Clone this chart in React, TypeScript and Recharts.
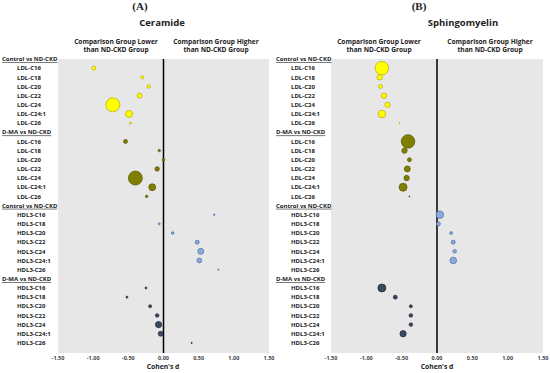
import { ScatterChart, Scatter, XAxis, YAxis, ZAxis, CartesianGrid, ReferenceLine } from 'recharts';

// row labels
const groupHeaders = ['Control vs ND-CKD', 'D-MA vs ND-CKD', 'Control vs ND-CKD', 'D-MA vs ND-CKD'];
const ldlLabels = ['LDL-C16', 'LDL-C18', 'LDL-C20', 'LDL-C22', 'LDL-C24', 'LDL-C24:1', 'LDL-C26'];
const hdlLabels = ['HDL3-C16', 'HDL3-C18', 'HDL3-C20', 'HDL3-C22', 'HDL3-C24', 'HDL3-C24:1', 'HDL3-C26'];
const xTicks = [-1.5, -1, -0.5, 0, 0.5, 1, 1.5];

// Ceramide: Cohen's d and bubble size
const cerControlLdlD = [-0.99, -0.3, -0.21, -0.34, -0.72, -0.49, -0.47];
const cerControlLdlSize = [4, 2.3, 3, 6, 49, 12, 1];
const cerDmaLdlD = [-0.54, -0.06, 0.0, -0.09, -0.4, -0.16, -0.24];
const cerDmaLdlSize = [4, 1.5, 1.7, 5, 49, 12, 1.5];
const cerControlHdlD = [0.72, -0.06, 0.13, 0.48, 0.53, 0.51, 0.78];
const cerControlHdlSize = [0.6, 1, 1.7, 4, 9, 5.8, 0.4];
const cerDmaHdlD = [-0.25, -0.52, -0.19, -0.09, -0.07, -0.04, 0.4];
const cerDmaHdlSize = [1, 1, 2.2, 3.2, 10, 6.2, 0.4];

// Sphingomyelin
const smControlLdlD = [-0.78, -0.81, -0.8, -0.75, -0.7, -0.78, -0.53];
const smControlLdlSize = [46, 7.3, 4, 7.3, 6.8, 14, 0.3];
const smDmaLdlD = [-0.41, -0.46, -0.39, -0.42, -0.43, -0.48, -0.39];
const smDmaLdlSize = [46, 7.3, 4, 9, 7.3, 16, 0.3];
const smControlHdlD = [0.04, 0.02, 0.2, 0.23, 0.25, 0.23, null];
const smControlHdlSize = [14, 4, 2, 4, 3.2, 11, null];
const smDmaHdlD = [-0.78, -0.59, -0.37, -0.37, -0.37, -0.48, null];
const smDmaHdlSize = [16, 4, 2.2, 3.2, 3.2, 10, null];

const rowLabels = [
  groupHeaders[0], ...ldlLabels,
  groupHeaders[1], ...ldlLabels,
  groupHeaders[2], ...hdlLabels,
  groupHeaders[3], ...hdlLabels,
];
const rowTicks = rowLabels.map((_, i) => i);

const toPoints = (d: (number | null)[], s: (number | null)[], start: number) =>
  d.map((v, i) => ({ x: v, y: start + 1 + i, s: s[i] })).filter((p) => p.x !== null);

const FONT = '"Open Sans", "Liberation Sans", sans-serif';

function RowTick(props: any) {
  const { y, payload, headerX, itemX } = props;
  const isHeader = payload.value % 8 === 0;
  return (
    <text
      x={isHeader ? headerX : itemX}
      y={y}
      dy={2.2}
      fontSize={6}
      fontWeight={700}
      fontFamily={FONT}
      fill="#222"
      textDecoration={isHeader ? 'underline' : undefined}
    >
      {rowLabels[payload.value]}
    </text>
  );
}

const series = [
  { fill: '#ffff00', stroke: '#b5a600' },
  { fill: '#7f7f00', stroke: '#555500' },
  { fill: '#8eaadb', stroke: '#4a6cae' },
  { fill: '#3a4862', stroke: '#1f2838' },
];

function Panel({ sets, yWidth, right, headerX, itemX }: any) {
  return (
    <ScatterChart width={275} height={373} margin={{ top: 59, right, bottom: 0, left: 0 }}>
      <CartesianGrid horizontal={false} vertical={false} fill="#e7e7e7" />
      <XAxis
        type="number"
        dataKey="x"
        domain={[-1.5, 1.5]}
        ticks={xTicks}
        interval={0}
        tickFormatter={(v: number) => v.toFixed(2)}
        height={20}
        axisLine={false}
        tickLine={false}
        tickSize={2}
        tickMargin={1}
        tick={{ fontSize: 5.5, fontWeight: 700, fill: '#444', fontFamily: FONT }}
      />
      <YAxis
        type="number"
        dataKey="y"
        domain={[0, 32.1]}
        reversed
        ticks={rowTicks}
        interval={0}
        width={yWidth}
        axisLine={false}
        tickLine={false}
        tick={<RowTick headerX={headerX} itemX={itemX} />}
      />
      <ZAxis type="number" dataKey="s" domain={[0, 60]} range={[0, 188]} />
      <ReferenceLine x={0} stroke="#000" strokeWidth={1.5} />
      {sets.map((pts: any, i: number) => (
        <Scatter
          key={i}
          data={pts}
          fill={series[i].fill}
          stroke={series[i].stroke}
          strokeWidth={0.7}
          isAnimationActive={false}
        />
      ))}
    </ScatterChart>
  );
}

const txt = (s: any): any => ({ position: 'absolute', fontFamily: FONT, fontWeight: 700, color: '#222', textAlign: 'center', lineHeight: 1.25, whiteSpace: 'nowrap', ...s });

export default function App() {
  const cerSets = [
    toPoints(cerControlLdlD, cerControlLdlSize, 0),
    toPoints(cerDmaLdlD, cerDmaLdlSize, 8),
    toPoints(cerControlHdlD, cerControlHdlSize, 16),
    toPoints(cerDmaHdlD, cerDmaHdlSize, 24),
  ];
  const smSets = [
    toPoints(smControlLdlD, smControlLdlSize, 0),
    toPoints(smDmaLdlD, smDmaLdlSize, 8),
    toPoints(smControlHdlD, smControlHdlSize, 16),
    toPoints(smDmaHdlD, smDmaHdlSize, 24),
  ];
  return (
    <div style={{ position: 'absolute', left: 0, top: 0, width: 550, height: 373, background: '#fff', overflow: 'hidden' }}>
      <div style={{ position: 'absolute', left: 0, top: 0 }}>
        <Panel sets={cerSets} yWidth={58} right={6} headerX={2} itemX={17} />
      </div>
      <div style={{ position: 'absolute', left: 275, top: 0 }}>
        <Panel sets={smSets} yWidth={56} right={7} headerX={1} itemX={16} />
      </div>

      <div style={txt({ left: 120, top: 0, width: 40, fontFamily: '"Liberation Serif", serif', fontSize: 11 })}>(A)</div>
      <div style={txt({ left: 399, top: 0, width: 40, fontFamily: '"Liberation Serif", serif', fontSize: 11 })}>(B)</div>
      <div style={txt({ left: 112, top: 17, width: 100, fontSize: 9.5 })}>Ceramide</div>
      <div style={txt({ left: 413, top: 17, width: 100, fontSize: 9.5 })}>Sphingomyelin</div>

      <div style={txt({ left: 56, top: 38, width: 120, fontSize: 6.6 })}>Comparison Group Lower<br />than ND-CKD Group</div>
      <div style={txt({ left: 156, top: 38, width: 120, fontSize: 6.6 })}>Comparison Group Higher<br />than ND-CKD Group</div>
      <div style={txt({ left: 319, top: 38, width: 120, fontSize: 6.6 })}>Comparison Group Lower<br />than ND-CKD Group</div>
      <div style={txt({ left: 430, top: 38, width: 120, fontSize: 6.6 })}>Comparison Group Higher<br />than ND-CKD Group</div>

      <div style={txt({ left: 113, top: 363, width: 100, fontSize: 6.8 })}>Cohen's d</div>
      <div style={txt({ left: 387, top: 363, width: 100, fontSize: 6.8 })}>Cohen's d</div>
    </div>
  );
}
